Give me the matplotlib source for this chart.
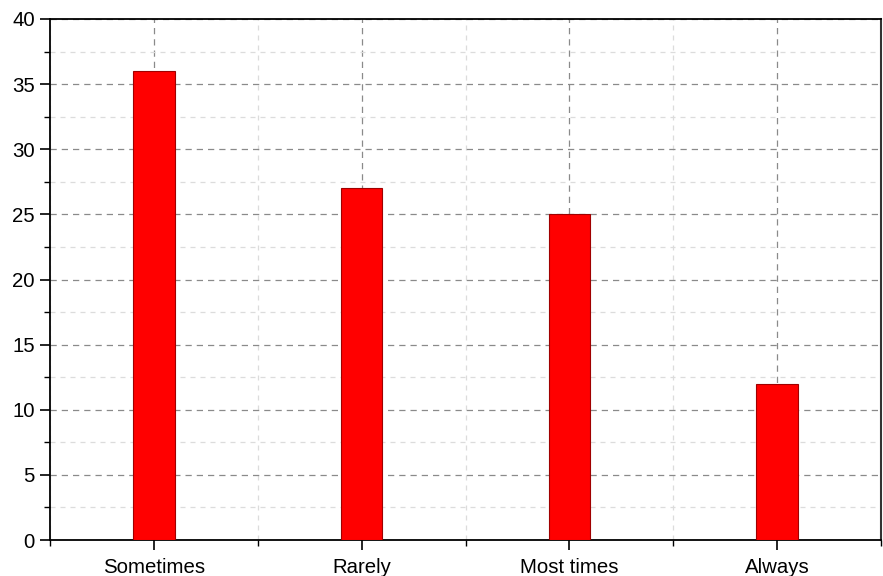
import matplotlib
matplotlib.use("Agg")
import matplotlib.pyplot as plt
import numpy as np
from matplotlib.ticker import MultipleLocator, FixedLocator

categories = ["Sometimes", "Rarely", "Most times", "Always"]
values = [36, 27, 25, 12]

plt.rcParams['font.family'] = ['Liberation Sans', 'DejaVu Sans']

fig = plt.figure(figsize=(8.83, 5.76), dpi=100)
ax = fig.add_axes([50/883, 36/576, 831/883, 521/576])

x = np.arange(len(categories))
ax.bar(x, values, width=0.2, color="#ff0000", edgecolor="#a00000", linewidth=0.8, zorder=3)

ax.set_xlim(-0.5, len(categories) - 0.5)
ax.set_ylim(0, 40)
ax.set_xticks(x)
ax.set_xticklabels(categories, fontsize=14.7)
ax.xaxis.set_minor_locator(FixedLocator(np.arange(-0.5, len(categories), 1.0)))
ax.yaxis.set_major_locator(MultipleLocator(5))
ax.yaxis.set_minor_locator(MultipleLocator(2.5))
ax.tick_params(axis='y', labelsize=14.7, pad=4)
ax.tick_params(axis='x', pad=6)

ax.tick_params(which='major', direction='out', length=7, width=1.2, color='black')
ax.tick_params(which='minor', direction='out', length=4, width=1.0, color='black')
ax.tick_params(top=False, right=False, which='both')

ax.grid(which='major', axis='both', linestyle=(0, (5, 4)), color='#8a8a8a', linewidth=0.9, zorder=0)
ax.grid(which='minor', axis='both', linestyle=(0, (4, 4)), color='#dcdcdc', linewidth=0.9, zorder=0)
ax.set_axisbelow(True)

for side in ['left', 'bottom', 'top']:
    ax.spines[side].set_linewidth(1.3)
    ax.spines[side].set_color('black')
ax.spines['right'].set_linewidth(1.5)
ax.spines['right'].set_color('#333333')

fig.savefig("out.png", dpi=100)
